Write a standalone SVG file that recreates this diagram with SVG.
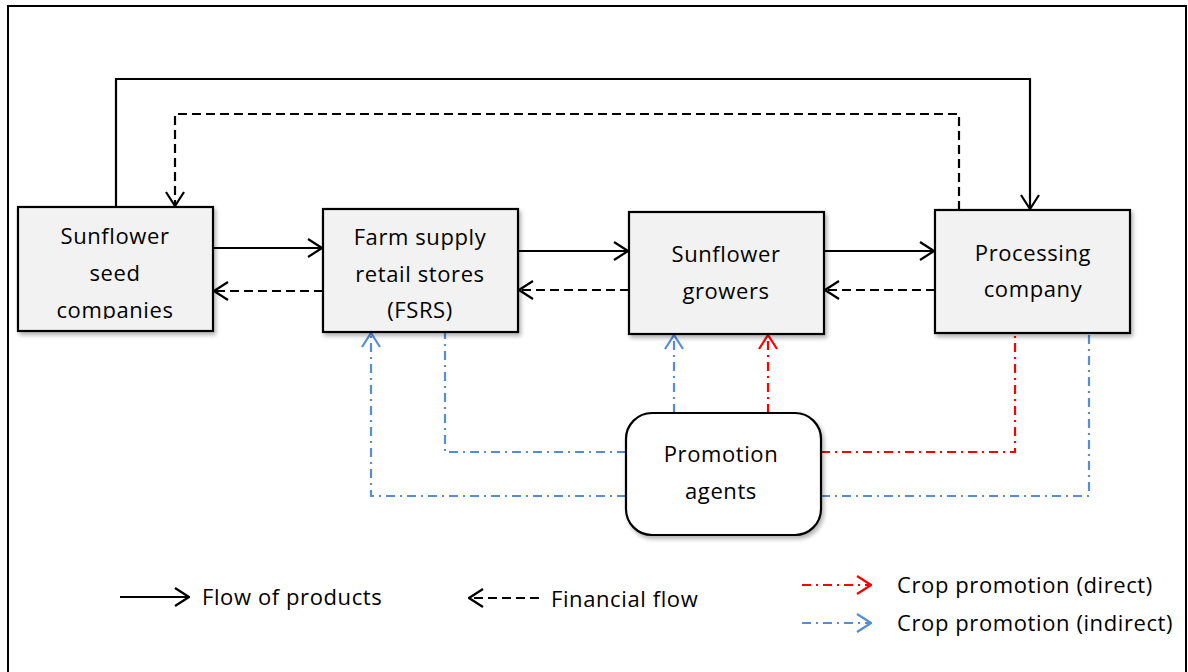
<svg xmlns="http://www.w3.org/2000/svg" width="1188" height="672" viewBox="0 0 1188 672">
<style>
.box{fill:#F2F2F2;stroke:#000;stroke-width:2.2;filter:url(#sh)}
.t{font-family:"Open Sans",Lato,"Liberation Sans",sans-serif;font-size:22px;letter-spacing:0.6px;fill:#000;text-anchor:middle}
.lt{font-family:"Open Sans",Lato,"Liberation Sans",sans-serif;font-size:22px;letter-spacing:0.6px;fill:#000}
.solid{fill:none;stroke:#000;stroke-width:2.2}
.dash{fill:none;stroke:#000;stroke-width:2.2;stroke-dasharray:9 5}
.blue{fill:none;stroke:#558ED5;stroke-width:2.2;stroke-dasharray:9 5 2 5}
.red{fill:none;stroke:#FF0000;stroke-width:2.2;stroke-dasharray:9 5 2 5}
</style>
<defs>
<filter id="sh" x="-10%" y="-10%" width="130%" height="130%">
<feGaussianBlur in="SourceAlpha" stdDeviation="2"/>
<feOffset dx="2" dy="3" result="o"/>
<feComponentTransfer><feFuncA type="linear" slope="0.3"/></feComponentTransfer>
<feMerge><feMergeNode/><feMergeNode in="SourceGraphic"/></feMerge>
</filter>
<marker id="ak" viewBox="0 0 16 20" refX="15" refY="10" markerWidth="16" markerHeight="20" markerUnits="userSpaceOnUse" orient="auto"><path d="M1,1 L15,10 L1,19" fill="none" stroke="#000" stroke-width="2.2"/></marker>
<marker id="ab" viewBox="0 0 16 20" refX="15" refY="10" markerWidth="16" markerHeight="20" markerUnits="userSpaceOnUse" orient="auto"><path d="M1,1 L15,10 L1,19" fill="none" stroke="#558ED5" stroke-width="2.2"/></marker>
<marker id="ar" viewBox="0 0 16 20" refX="15" refY="10" markerWidth="16" markerHeight="20" markerUnits="userSpaceOnUse" orient="auto"><path d="M1,1 L15,10 L1,19" fill="none" stroke="#FF0000" stroke-width="2.2"/></marker>
<clipPath id="c1"><rect x="18" y="207" width="195" height="112"/></clipPath>
</defs>
<rect x="0" y="0" width="1188" height="672" fill="#fff"/>
<rect x="8" y="6" width="1178" height="700" fill="none" stroke="#000" stroke-width="2"/>

<g id="connectors">
<path class="solid" d="M116,207 V79 H1030 V209" marker-end="url(#ak)"/>
<path class="dash" d="M959,210 V114 H175 V206" marker-end="url(#ak)"/>
<path class="solid" d="M213,248 H322" marker-end="url(#ak)"/>
<path class="dash" d="M323,291 H214" marker-end="url(#ak)"/>
<path class="solid" d="M518,251 H628" marker-end="url(#ak)"/>
<path class="dash" d="M629,290 H519" marker-end="url(#ak)"/>
<path class="solid" d="M824,251 H934" marker-end="url(#ak)"/>
<path class="dash" d="M935,290 H825" marker-end="url(#ak)"/>
<path class="blue" d="M626,452 H445 V332"/>
<path class="blue" d="M626,496 H371 V333" marker-end="url(#ab)"/>
<path class="blue" d="M674,413 V335" marker-end="url(#ab)"/>
<path class="red" d="M768,413 V335" marker-end="url(#ar)"/>
<path class="red" d="M821,452 H1015 V333"/>
<path class="blue" d="M821,496 H1089 V333"/>
</g>

<g id="seed">
<rect class="box" x="18" y="207" width="195" height="124"/>
<g clip-path="url(#c1)">
<text class="t" x="115" y="244">Sunflower</text>
<text class="t" x="115" y="281">seed</text>
<text class="t" x="115" y="318">companies</text>
</g>
</g>
<g id="fsrs">
<rect class="box" x="323" y="209" width="195" height="123"/>
<text class="t" x="420" y="245">Farm supply</text>
<text class="t" x="420" y="282">retail stores</text>
<text class="t" x="420" y="318">(FSRS)</text>
</g>
<g id="growers">
<rect class="box" x="629" y="212" width="195" height="122"/>
<text class="t" x="726" y="262">Sunflower</text>
<text class="t" x="726" y="299">growers</text>
</g>
<g id="processing">
<rect class="box" x="935" y="210" width="195" height="123"/>
<text class="t" x="1033" y="261">Processing</text>
<text class="t" x="1033" y="297">company</text>
</g>
<g id="promotion">
<rect class="box" x="626" y="413" width="195" height="122" rx="26" ry="26" style="fill:#fff"/>
<text class="t" x="721" y="462">Promotion</text>
<text class="t" x="721" y="499">agents</text>
</g>

<g id="legend">
<path class="solid" d="M120,597 H189" marker-end="url(#ak)"/>
<text class="lt" x="202" y="605">Flow of products</text>
<path class="dash" d="M539,598 H469" marker-end="url(#ak)"/>
<text class="lt" x="551" y="607">Financial flow</text>
<path class="red" d="M802,585 H871" marker-end="url(#ar)"/>
<text class="lt" x="897" y="593">Crop promotion (direct)</text>
<path class="blue" d="M802,623 H871" marker-end="url(#ab)"/>
<text class="lt" x="897" y="631">Crop promotion (indirect)</text>
</g>
</svg>
